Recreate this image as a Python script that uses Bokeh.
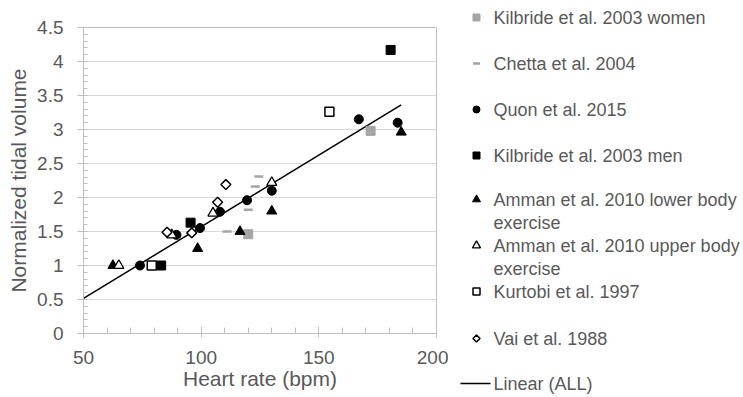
from bokeh.plotting import figure
from bokeh.layouts import row
from bokeh.models import Range1d, FixedTicker, PrintfTickFormatter
from bokeh.core.properties import value
from bokeh.embed import file_html
from bokeh.resources import INLINE
import numpy as np

# ---------------- data ----------------
kilbride_women_hr = [120, 172]
kilbride_women_vt = [1.46, 2.98]

chetta_hr = [111, 120, 123, 124.5]
chetta_vt = [1.50, 1.82, 2.16, 2.31]

quon_hr = [74, 89.5, 99.5, 108, 119.5, 130, 167, 183.5]
quon_vt = [1.00, 1.45, 1.55, 1.79, 1.96, 2.10, 3.15, 3.10]

kilbride_men_hr = [83, 95.5, 180.5]
kilbride_men_vt = [1.00, 1.63, 4.17]

amman_lower_hr = [62.5, 98.5, 116.5, 130, 185]
amman_lower_vt = [1.00, 1.25, 1.50, 1.80, 2.96]

amman_upper_hr = [65, 87.5, 105, 130]
amman_upper_vt = [1.00, 1.45, 1.77, 2.22]

kurtobi_hr = [79, 154.5]
kurtobi_vt = [1.00, 3.26]

vai_hr = [85.5, 96, 107, 110.5]
vai_vt = [1.49, 1.48, 1.93, 2.19]

trend_slope = 0.0211
trend_intercept = -0.54
trend_x_start = 50

x_ticks = [50, 100, 150, 200]
y_ticks = [0, 0.5, 1, 1.5, 2, 2.5, 3, 3.5, 4, 4.5]

legend_labels = [
    ["Kilbride et al. 2003 women"],
    ["Chetta et al. 2004"],
    ["Quon et al. 2015"],
    ["Kilbride et al. 2003 men"],
    ["Amman et al. 2010 lower body", "exercise"],
    ["Amman et al. 2010 upper body", "exercise"],
    ["Kurtobi et al. 1997"],
    ["Vai et al. 1988"],
]
trend_label = "Linear (ALL)"

# ---------------- styling ----------------
FONT = "Liberation Sans"
TXT = "#595959"
AX = "#bfbfbf"
GRID = "#d9d9d9"
GREYM = "#a5a5a5"

series = [
    (kilbride_women_hr, kilbride_women_vt, dict(marker="square", fill_color=GREYM, line_color=GREYM, size=9)),
    (chetta_hr, chetta_vt, dict(marker="dash", line_color=GREYM, line_width=2.5, size=9)),
    (quon_hr, quon_vt, dict(marker="circle", fill_color="black", line_color="black", size=9)),
    (kilbride_men_hr, kilbride_men_vt, dict(marker="square", fill_color="black", line_color="black", size=9)),
    (amman_lower_hr, amman_lower_vt, dict(marker="triangle", fill_color="black", line_color="black", size=10)),
    (amman_upper_hr, amman_upper_vt, dict(marker="triangle", fill_color="white", line_color="black", line_width=1.3, size=10)),
    (kurtobi_hr, kurtobi_vt, dict(marker="square", fill_color="white", line_color="black", line_width=1.5, size=9)),
    (vai_hr, vai_vt, dict(marker="square", angle=np.pi / 4, fill_color="white", line_color="black", line_width=1.5, size=7)),
]

p = figure(width=448, height=397,
           x_range=Range1d(50, 200), y_range=Range1d(0, 4.5),
           output_backend="svg", toolbar_location=None,
           min_border_left=83, min_border_right=12, min_border_top=27, min_border_bottom=64,
           background_fill_color="white", border_fill_color="white")
p.frame_align = False
p.outline_line_color = AX

p.xaxis.ticker = FixedTicker(ticks=x_ticks, minor_ticks=list(np.arange(50, 201, 10)))
p.yaxis.ticker = FixedTicker(ticks=y_ticks, minor_ticks=list(np.round(np.arange(0, 4.51, 0.1), 2)))
p.yaxis.formatter = PrintfTickFormatter(format="%g")

p.xgrid.visible = False
p.ygrid.grid_line_color = GRID
p.ygrid.grid_line_width = 1

for ax in (p.xaxis, p.yaxis):
    ax.axis_line_color = AX
    ax.major_tick_line_color = AX
    ax.minor_tick_line_color = AX
    ax.major_label_text_font = FONT
    ax.major_label_text_font_size = "19px"
    ax.major_label_text_color = TXT
    ax.axis_label_text_font = FONT
    ax.axis_label_text_font_size = "21px"
    ax.axis_label_text_font_style = "normal"
    ax.axis_label_text_color = TXT

p.xaxis.axis_label = "Heart rate (bpm)"
p.xaxis.major_tick_in = 7
p.xaxis.major_tick_out = 4
p.xaxis.minor_tick_in = 6
p.xaxis.minor_tick_out = 0
p.xaxis.major_label_standoff = 13
p.xaxis.axis_label_standoff = 0

p.yaxis.axis_label = "Normalized tidal volume"
p.yaxis.major_tick_in = 0
p.yaxis.major_tick_out = 6
p.yaxis.minor_tick_in = 4
p.yaxis.minor_tick_out = 0
p.yaxis.major_label_standoff = 14
p.yaxis.axis_label_standoff = 4

# trend line
all_x = sum([s[0] for s in series], [])
tx = [trend_x_start, max(all_x)]
ty = [trend_intercept + trend_slope * v for v in tx]
p.line(tx, ty, line_color="black", line_width=1.5)

for xs, ys, st in series:
    p.scatter(xs, ys, **st)

# ---------------- legend panel ----------------
lg = figure(width=295, height=397, x_range=Range1d(0, 295), y_range=Range1d(397, 0),
            output_backend="svg", toolbar_location=None, min_border=0,
            x_axis_location=None, y_axis_location=None,
            background_fill_color="white", border_fill_color="white")
lg.frame_align = False
lg.outline_line_color = None
lg.grid.visible = False

row_y = [17, 63, 109, 155, 199, 245, 291, 338]
line_gap = 23
mark_x = 28
text_x = 45
tx_list, ty_list, tt_list = [], [], []
for (xs, ys, st), labs, yy in zip(series, legend_labels, row_y):
    st2 = dict(st)
    st2["size"] = st["size"] - 2
    lg.scatter([mark_x], [yy], **st2)
    for k, lab in enumerate(labs):
        tx_list.append(text_x)
        ty_list.append(yy + k * line_gap)
        tt_list.append(lab)
trend_y = 383
lg.segment(x0=[12], y0=[trend_y], x1=[42], y1=[trend_y], line_color="black", line_width=1.5)
tx_list.append(text_x)
ty_list.append(trend_y)
tt_list.append(trend_label)
lg.text(x=tx_list, y=ty_list, text=tt_list, text_font=value(FONT), text_font_size="18px",
        text_color=TXT, text_baseline="middle", text_align="left")

layout = row(p, lg)
open("out.html", "w").write(file_html(layout, INLINE))
